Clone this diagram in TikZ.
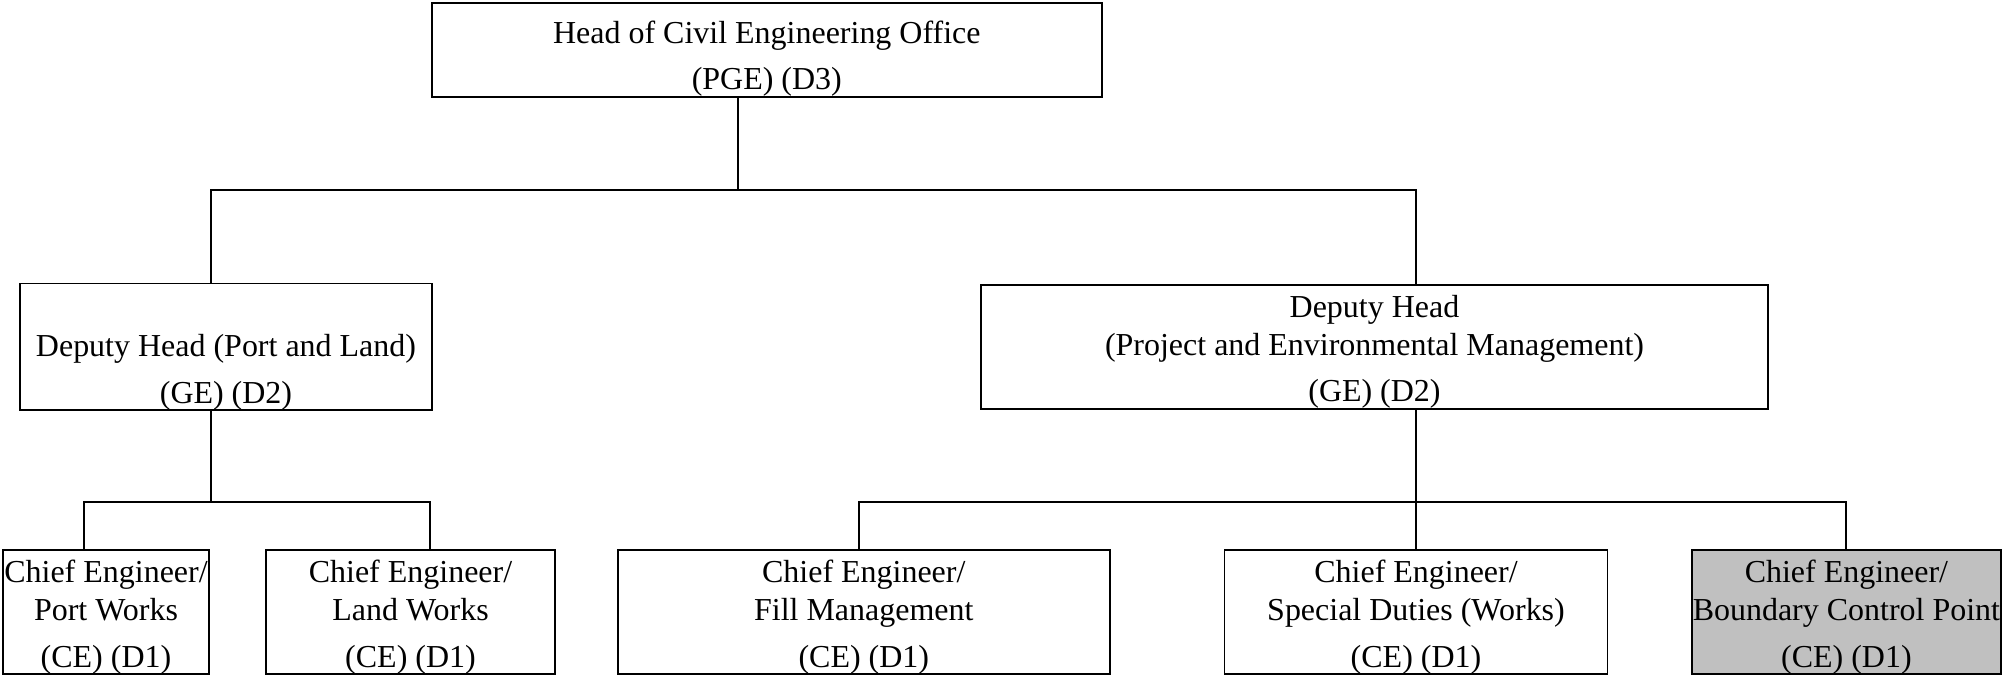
\documentclass[tikz,border=0pt]{standalone}
\usepackage{fontspec}
\setmainfont{Liberation Serif}
\usepackage{tikz}
\definecolor{shade}{RGB}{192,192,192}
\definecolor{ink}{RGB}{0,0,0}
\newcommand\padtop[1]{\rule{0pt}{#1}}

\begin{document}
\begin{tikzpicture}[x=0.02cm,y=-0.02cm,box/.style={rectangle,draw=ink,line width=1.1pt,inner sep=0pt,outer sep=0pt,align=center,font=\fontsize{18.2}{21.6}\selectfont},link/.style={draw=ink,line width=1.1pt}]
\useasboundingbox (0,0) rectangle (2002,675);
% top
\node[box,minimum width=670.3*0.02cm,minimum height=94.4*0.02cm] (head) at (766.8,49.8) {\padtop{23pt}Head of Civil Engineering Office\\[4.9pt](PGE) (D3)};
% deputies
\node[box,minimum width=411.2*0.02cm,minimum height=123.9*0.02cm] (dpl) at (226,346.7) {\padtop{20pt}\\Deputy Head (Port and Land)\\[4.9pt](GE) (D2)};
\node[box,minimum width=787.8*0.02cm,minimum height=123.9*0.02cm] (dpr) at (1374.5,346.7) {\padtop{18.3pt}Deputy Head\\(Project and Environmental Management)\\[4.9pt](GE) (D2)};
% chief engineers
\node[box,minimum width=206.8*0.02cm,minimum height=123.8*0.02cm] (port) at (106,612.2) {\padtop{18.3pt}Chief Engineer/\\Port Works\\[4.9pt](CE) (D1)};
\node[box,minimum width=289.8*0.02cm,minimum height=123.8*0.02cm] (land) at (410.5,612.2) {\padtop{18.3pt}Chief Engineer/\\Land Works\\[4.9pt](CE) (D1)};
\node[box,minimum width=491.6*0.02cm,minimum height=123.8*0.02cm] (fill) at (863.8,612.2) {\padtop{18.3pt}Chief Engineer/\\Fill Management\\[4.9pt](CE) (D1)};
\node[box,minimum width=383*0.02cm,minimum height=123.8*0.02cm] (spec) at (1416,612.2) {\padtop{18.3pt}Chief Engineer/\\Special Duties (Works)\\[4.9pt](CE) (D1)};
\node[box,fill=shade,minimum width=309.2*0.02cm,minimum height=123.8*0.02cm] (bcp) at (1846.4,612.2) {\padtop{18.3pt}Chief Engineer/\\Boundary Control Point\\[4.9pt](CE) (D1)};
% bus points
\coordinate (busA) at (738,190.2);
\coordinate (busB) at (210.7,501.8);
\coordinate (busC) at (1416,501.8);
\coordinate (dPort) at (84.3,501.8);
\coordinate (dLand) at (430.3,501.8);
\coordinate (dFill) at (859.3,501.8);
\coordinate (dBcp) at (1846.3,501.8);
\draw[link] (head.south -| busA) -- (busA);
\draw[link] (dpl.north -| busB) |- (busA) -| (dpr.north -| busC);
\draw[link] (dpl.south -| busB) -- (busB);
\draw[link] (port.north -| dPort) -- (dPort) -- (dLand) -- (land.north -| dLand);
\draw[link] (dpr.south -| busC) -- (spec.north -| busC);
\draw[link] (fill.north -| dFill) -- (dFill) -- (dBcp) -- (bcp.north -| dBcp);
\end{tikzpicture}
\end{document}
